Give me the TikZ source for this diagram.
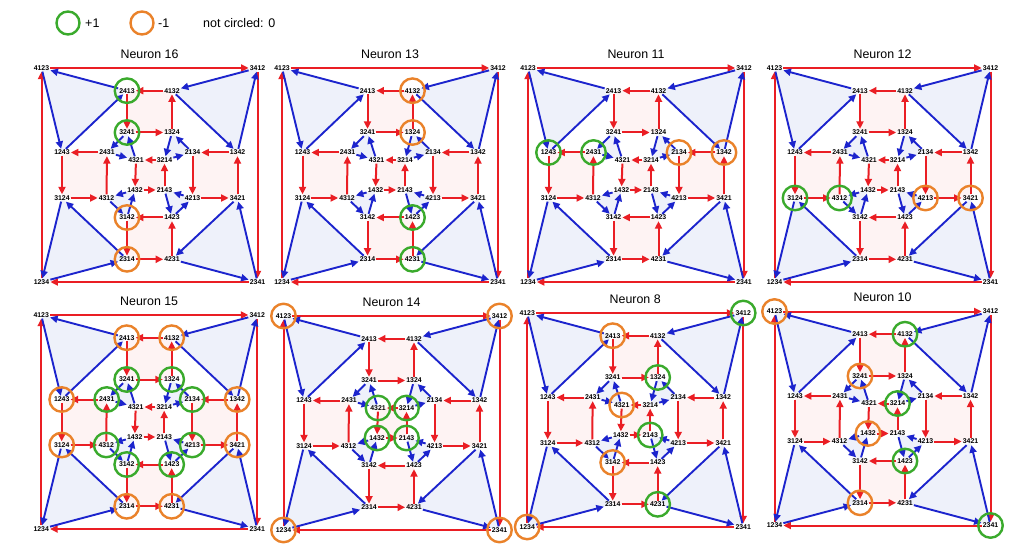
\documentclass[tikz,border=0pt]{standalone}
\usepackage{fontspec}
\setmainfont{Liberation Sans}
\usetikzlibrary{arrows.meta}
\pgfdeclarelayer{bg}
\pgfsetlayers{bg,main}
\definecolor{arrred}{RGB}{234,30,36}
\definecolor{arrblue}{RGB}{28,36,205}
\definecolor{cgreen}{RGB}{58,170,44}
\definecolor{corange}{RGB}{234,130,42}
\definecolor{ctri}{RGB}{238,241,250}
\definecolor{csq}{RGB}{254,243,243}
\tikzset{
  lbl/.style={font=\fontsize{6.9}{7}\selectfont\bfseries, inner sep=1pt},
  redarr/.style={draw=arrred, line width=2pt, -{Triangle[length=7.5pt,width=7pt]}},
  bluearr/.style={draw=arrblue, line width=1.9pt, -{Triangle[length=7.5pt,width=7pt]}},
  gcirc/.style={draw=cgreen, circle, line width=2.4pt, minimum size=24.5pt, inner sep=0pt},
  ocirc/.style={draw=corange, circle, line width=2.4pt, minimum size=24.5pt, inner sep=0pt},
  legcirc/.style={circle, line width=2.4pt, minimum size=23pt, inner sep=0pt},
  trishade/.style={fill=ctri},
  sqshade/.style={fill=csq},
  ptitle/.style={font=\fontsize{12.4}{14}\selectfont},
  legtxt/.style={font=\fontsize{12.5}{14}\selectfont, inner sep=0pt}
}
\def\nodelist{4123/-108/-107, 3412/108/-107, 1234/-108/107, 2341/108/107,
  2413/-22.5/-84.3, 4132/22.5/-84.3, 3241/-22.5/-42.5, 1324/22.5/-42.5,
  1243/-87.5/-22.5, 2431/-42.5/-22.5, 4321/-13.5/-15, 3214/15/-15,
  2134/43/-22.5, 1342/88/-22.5, 1432/-14.5/15, 2143/15/15,
  3124/-87.5/23, 4312/-43/23, 4213/43/23, 3421/88/23,
  3142/-22.5/42.5, 1423/22.5/42.5, 2314/-22.5/84.3, 4231/22.5/84.3}
\newcommand\drawpanel[6]{%
\begin{scope}[shift={(#2,#3)}]
  \node[ptitle] (#1-title) at (0,-121) {#4};
  \foreach \nm/\x/\y in \nodelist {\node[lbl] (#1-\nm) at (\x,\y) {\nm};}
  \begin{pgfonlayer}{bg}
    \foreach \a/\b/\c in {4123/2413/1243, 3412/4132/1342, 1234/3124/2314, 2341/3421/4231,
        3241/2431/4321, 1324/3214/2134, 1432/4312/3142, 2143/4213/1423}
      {\fill[trishade] (#1-\a.center) -- (#1-\b.center) -- (#1-\c.center) -- cycle;}
    \foreach \a/\b/\c/\d in {2413/4132/1324/3241, 1243/2431/4312/3124, 2134/1342/3421/4213,
        3142/1423/4231/2314, 4321/3214/2143/1432}
      {\fill[sqshade] (#1-\a.center) -- (#1-\b.center) -- (#1-\c.center) -- (#1-\d.center) -- cycle;}
  \end{pgfonlayer}
  \foreach \a/\b in {4123/3412, 3412/2341, 2341/1234, 1234/4123,
      4132/2413, 2413/3241, 3241/1324, 1324/4132,
      2431/1243, 1243/3124, 3124/4312, 4312/2431,
      3214/4321, 4321/1432, 1432/2143, 2143/3214,
      1342/2134, 2134/4213, 4213/3421, 3421/1342,
      1423/3142, 3142/2314, 2314/4231, 4231/1423}
    {\draw[redarr] (#1-\a) -- (#1-\b);}
  \foreach \a/\b in {2413/4123, 4123/1243, 1243/2413,
      3412/4132, 4132/1342, 1342/3412,
      2314/3124, 3124/1234, 1234/2314,
      3421/4231, 4231/2341, 2341/3421,
      3241/2431, 2431/4321, 4321/3241,
      1324/3214, 3214/2134, 2134/1324,
      1432/4312, 4312/3142, 3142/1432,
      4213/2143, 2143/1423, 1423/4213}
    {\draw[bluearr] (#1-\a) -- (#1-\b);}
  \foreach \nm in {#5} {\node[gcirc] (#1-g\nm) at (#1-\nm) {};}
  \foreach \nm in {#6} {\node[ocirc] (#1-o\nm) at (#1-\nm) {};}
\end{scope}}
\begin{document}
\begin{tikzpicture}[x=1pt,y=-1pt]
\begin{pgfonlayer}{bg}
\fill[white] (0,0) rectangle (1025,545);
\end{pgfonlayer}
\path[use as bounding box] (0,0) rectangle (1025,545);
% legend
\node[legcirc, draw=cgreen] (lg) at (68,23) {};
\node[legtxt, anchor=west] (lgt) at (85,23.5) {+1};
\node[legcirc, draw=corange] (lo) at (142,23) {};
\node[legtxt, anchor=west] (lot) at (158,23.5) {-1};
\node[legtxt, anchor=west] (lnt) at (203,23.5) {not circled: 0};
% panels
\drawpanel{pa}{149.5}{175}{Neuron 16}{2413,3241}{3142,2314}
\drawpanel{pb}{390}{175}{Neuron 13}{1423,4231}{4132,1324}
\drawpanel{pc}{636}{175}{Neuron 11}{1243,2431}{2134,1342}
\drawpanel{pd}{882.5}{175}{Neuron 12}{3124,4312}{4213,3421}
\drawpanel{pe}{149.2}{422}{Neuron 15}{3241,1324,2431,2134,4312,4213,3142,1423}{2413,4132,1243,1342,3124,3421,2314,4231}
\drawpanel{pf}{391.5}{423}{Neuron 14}{4321,3214,1432,2143}{4123,3412,1234,2341}
\drawpanel{pg}{635.2}{420}{Neuron 8}{3412,1324,2143,4231}{2413,4321,3142,1234}
\drawpanel{ph}{882.5}{418.5}{Neuron 10}{4132,3214,1423,2341}{4123,3241,1432,2314}
\end{tikzpicture}
\end{document}
